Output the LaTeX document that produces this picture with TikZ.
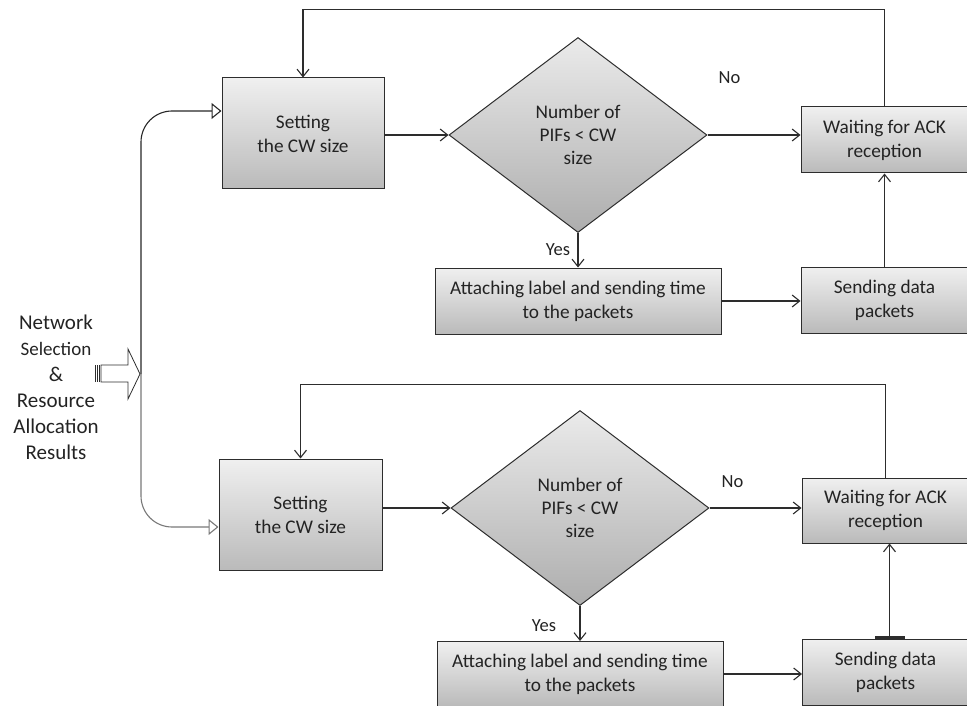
\documentclass[tikz,border=0pt]{standalone}
\usepackage{fontspec}
\setmainfont{Carlito}
\usepackage{tikz}
\usetikzlibrary{shapes,arrows.meta,positioning,calc}
\usepackage{xcolor}
\definecolor{linegray}{RGB}{45,45,45}
\definecolor{textgray}{RGB}{35,35,35}
\definecolor{forkgray}{RGB}{120,120,120}

\begin{document}
\begin{tikzpicture}[
    x=1pt, y=-1pt,
    box/.style={rectangle, draw=linegray, line width=1pt, top color=black!6, bottom color=black!27,
        align=center, inner sep=2pt, font=\fontsize{19.3}{24}\selectfont, text=textgray},
    decision/.style={diamond, draw=linegray, line width=1pt, top color=black!8, bottom color=black!32,
        aspect=1.32, minimum width=258pt, minimum height=195pt, inner sep=0pt,
        align=center, font=\fontsize{19.3}{23}\selectfont, text=textgray},
    lbl/.style={font=\fontsize{18.5}{22}\selectfont, text=textgray},
    flow/.style={draw=linegray, line width=1.1pt, -{Straight Barb[length=7.5pt, width=12pt]}},
    feed/.style={line width=1.1pt, rounded corners=31pt, -{Triangle[open, length=10pt, width=16pt]}}
]
    \useasboundingbox (0,0) rectangle (967,706);

    % Input
    \node[align=center, font=\fontsize{21}{26}\selectfont, text=textgray] (input) at (56,387)
        {Network\\{\fontsize{19}{26}\selectfont Selection}\\\&\\Resource\\Allocation\\Results};
    \draw[linegray, line width=0.8pt] (101,365) -- (128,365) -- (128,349) -- (140,374)
        -- (128,399) -- (128,382) -- (101,382) -- cycle;
    \foreach \xs in {95.5,97.5,99.5}
        \draw[linegray, line width=0.8pt] (\xs,365) -- (\xs,382);
    \coordinate (fork) at (141,374);

    % Upper loop
    \node[box, minimum width=162pt, minimum height=111pt] (set1) at (303,133.5) {Setting\\the CW size};
    \node[decision, right=64pt of set1, yshift=-1.5pt] (dec1) {Number of\\PIFs < CW\\size};
    \node[box, minimum width=167pt, minimum height=66pt, right=93pt of dec1, yshift=-5pt] (wait1)
        {Waiting for ACK\\reception};
    \node[box, minimum width=286pt, minimum height=66pt, below=34.5pt of dec1] (att1)
        {Attaching label and sending time\\to the packets};
    \node[box, minimum width=167pt, minimum height=66pt, below=93pt of wait1] (send1)
        {Sending data\\packets};
    \node[lbl] (no1) at ([xshift=22pt, yshift=57pt]dec1.east) {No};
    \node[lbl] (yes1) at ([xshift=-20pt, yshift=-17pt]dec1.south) {Yes};

    % Lower loop
    \node[box, minimum width=163pt, minimum height=111pt] (set2) at (300.5,514.5) {Setting\\the CW size};
    \node[decision, right=68pt of set2, yshift=6.5pt] (dec2) {Number of\\PIFs < CW\\size};
    \node[box, minimum width=167pt, minimum height=65pt, right=92pt of dec2, yshift=-2.5pt] (wait2)
        {Waiting for ACK\\reception};
    \node[box, minimum width=286pt, minimum height=65pt, below=35pt of dec2] (att2)
        {Attaching label and sending time\\to the packets};
    \node[box, minimum width=166pt, minimum height=66pt, below=95pt of wait2] (send2)
        {Sending data\\packets};
    \node[lbl] (no2) at ([xshift=23pt, yshift=26pt]dec2.east) {No};
    \node[lbl] (yes2) at ([xshift=-36pt, yshift=-20pt]dec2.south) {Yes};

    % Edges
    \draw[feed, draw=black!85] (fork) |- ([yshift=22.5pt]set1.west);
    \draw[feed, draw=forkgray] (fork) |- ([yshift=-12.5pt]set2.west);

    \draw[flow] (dec1.west -| set1.east) -- (dec1.west);
    \draw[flow] (dec1.east) -- (dec1.east -| wait1.west);
    \draw[flow] (dec1.south) -- (dec1.south |- att1.north);
    \draw[flow] (att1.east) -- (att1.east -| send1.west);
    \draw[flow] (send1.north) -- (wait1.south);
    \draw[flow] (wait1.north) -- ++(0,-97) -| (set1.north);

    \draw[flow] (dec2.west -| set2.east) -- (dec2.west);
    \draw[flow] (dec2.east) -- (dec2.east -| wait2.west);
    \draw[flow] (dec2.south) -- (dec2.south |- att2.north);
    \draw[flow] (att2.east) -- (att2.east -| send2.west);
    \draw[flow, {Bar[width=30pt, line width=2.5pt]}-{Straight Barb[length=7.5pt, width=12pt]}]
        ([xshift=4pt]send2.north) -- ([xshift=4pt]send2.north |- wait2.south);
    \draw[flow] (wait2.north) -- ++(0,-93) -| (set2.north);
\end{tikzpicture}
\end{document}
